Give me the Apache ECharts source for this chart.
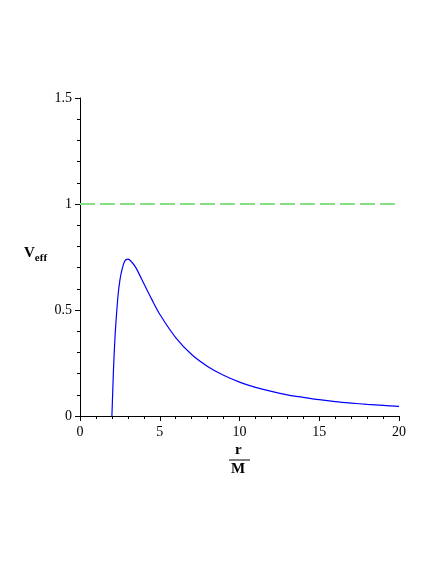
<!DOCTYPE html>
<html>
<head>
<meta charset="utf-8">
<script src="https://cdn.jsdelivr.net/npm/echarts@6/dist/echarts.min.js"></script>
<style>
  html, body { margin: 0; padding: 0; background: #fff; }
  #chart { width: 436px; height: 564px; }
</style>
</head>
<body>
<div id="chart"></div>
<script>
// values
const rValues = [2.0, 2.05, 2.1, 2.2, 2.3, 2.4, 2.5, 2.6, 2.8, 3.0, 3.2, 3.5, 4.0, 4.5, 5, 6, 7, 8, 9, 10, 11, 12, 13, 14, 15, 16, 17, 18, 19, 20];
const vEff = [0.0, 0.11, 0.22, 0.38, 0.49, 0.58, 0.64, 0.68, 0.73, 0.74, 0.73, 0.70, 0.625, 0.55, 0.48, 0.37, 0.29, 0.234, 0.192, 0.16, 0.135, 0.116, 0.10, 0.088, 0.077, 0.068, 0.061, 0.055, 0.050, 0.045];
const levelX = [0, 20];
const levelY = [1, 1];

const font = 'Liberation Serif';
const chart = echarts.init(document.getElementById('chart'));

chart.setOption({
  backgroundColor: '#fff',
  animation: false,
  grid: { left: 80, right: 37, top: 98, bottom: 148 },
  xAxis: {
    type: 'value',
    min: 0, max: 20, interval: 5,
    axisLine: { onZero: false, lineStyle: { color: '#000', width: 1 } },
    axisTick: { show: true, length: 5, lineStyle: { color: '#000' } },
    minorTick: { show: true, splitNumber: 5, length: 3, lineStyle: { color: '#000' } },
    splitLine: { show: false },
    axisLabel: { color: '#000', fontFamily: font, fontSize: 14, margin: 9 }
  },
  yAxis: {
    type: 'value',
    min: 0, max: 1.5, interval: 0.5,
    axisLine: { show: true, onZero: false, lineStyle: { color: '#000', width: 1 } },
    axisTick: { show: true, length: 5, lineStyle: { color: '#000' } },
    minorTick: { show: true, splitNumber: 5, length: 3, lineStyle: { color: '#000' } },
    splitLine: { show: false },
    axisLabel: { color: '#000', fontFamily: font, fontSize: 14, margin: 8 }
  },
  graphic: [
    {
      type: 'text', left: 24, top: 246,
      style: {
        text: '{v|V}{s|eff}',
        rich: {
          v: { fontFamily: font, fontWeight: 'bold', fontSize: 15, fill: '#000' },
          s: { fontFamily: font, fontWeight: 'bold', fontSize: 11, fill: '#000', verticalAlign: 'bottom', padding: [10, 0, 0, 0] }
        }
      }
    },
    {
      type: 'text', left: 235, top: 443,
      style: { text: 'r', fontFamily: font, fontWeight: 'bold', fontSize: 15, fill: '#000' }
    },
    {
      type: 'line',
      shape: { x1: 229, y1: 460, x2: 250, y2: 460 },
      style: { stroke: '#000', lineWidth: 1 }
    },
    {
      type: 'text', left: 231, top: 462,
      style: { text: 'M', fontFamily: font, fontWeight: 'bold', fontSize: 15, fill: '#000' }
    }
  ],
  series: [
    {
      type: 'line',
      data: levelX.map((x, i) => [x, levelY[i]]),
      showSymbol: false,
      lineStyle: { color: '#85e085', width: 2, type: [15, 5] }
    },
    {
      type: 'line',
      data: rValues.map((r, i) => [r, vEff[i]]),
      showSymbol: false,
      smooth: 0.3,
      lineStyle: { color: '#0000ff', width: 1.2 }
    }
  ]
});
</script>
</body>
</html>
